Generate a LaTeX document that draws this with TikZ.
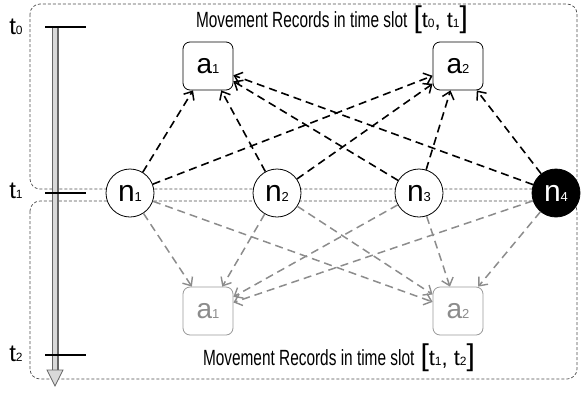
\documentclass[tikz,border=0pt]{standalone}
\usepackage{fontspec}
\usepackage{graphicx}
\setmainfont{Liberation Sans}
\usetikzlibrary{arrows.meta}
\newcommand{\sub}[2]{#1{\fontsize{13}{13}\selectfont #2}}
\newcommand{\tsub}[1]{t{\fontsize{12}{12}\selectfont #1}}
\begin{document}
\begin{tikzpicture}[x=1pt,y=-1pt,
  slotbox/.style={draw=black!70, dashed, dash pattern=on 3pt off 2pt, line width=0.7pt, rounded corners=10pt},
  circ/.style={circle, draw=black, line width=0.8pt, fill=white, minimum size=48pt, inner sep=0pt, font=\fontsize{30}{30}\selectfont},
  loc/.style={draw=black, line width=0.8pt, fill=white, rounded corners=7pt, minimum width=50pt, minimum height=48pt, inner sep=0pt, font=\fontsize{28}{28}\selectfont},
  gloc/.style={loc, draw=black!40, text=black!45},
  up/.style={draw=black, line width=1.6pt, dash pattern=on 8pt off 5pt, -{Straight Barb[length=7pt,width=12pt,line width=1.5pt]}},
  down/.style={draw=black!45, line width=1.5pt, dash pattern=on 8pt off 5pt, -{Straight Barb[length=7pt,width=12pt,line width=1.4pt]}},
  tick/.style={draw=black, line width=2pt},
  tlab/.style={font=\fontsize{24}{24}\selectfont},
  title/.style={font=\fontsize{22}{22}\selectfont, inner sep=0pt}
]
\useasboundingbox (0,0) rectangle (581,392);
% slot boxes
\draw[slotbox] (30,4) rectangle (577,189);
\draw[slotbox] (30,201) rectangle (577,379);
% time axis
\coordinate (ax0) at (55,27);
\coordinate (ax1) at (55,370);
\draw[line width=7pt, black!60] (ax0) -- (ax1);
\draw[line width=4pt, black!15] (ax0) -- (ax1);
\filldraw[fill=black!15, draw=black!60, line width=0.8pt] (47,370) -- (63,370) -- (55,386) -- cycle;
\draw[tick] (45,27) -- (86,27);
\draw[tick] (45,193) -- (86,193);
\draw[tick] (45,355) -- (86,355);
\node[tlab] (t0) at (16,27) {\tsub{0}};
\node[tlab] (t1) at (16,191) {\tsub{1}};
\node[tlab] (t2) at (16,354) {\tsub{2}};
% titles
\node[title] (ttop) at (332,20) {\scalebox{0.7}[1]{Movement Records in time slot}\ {\fontsize{30}{30}\selectfont [}\tsub{0}, \tsub{1}{\fontsize{30}{30}\selectfont ]}};
\node[title] (tbot) at (339,358) {\scalebox{0.7}[1]{Movement Records in time slot}\ {\fontsize{30}{30}\selectfont [}\tsub{1}, \tsub{2}{\fontsize{30}{30}\selectfont ]}};
% nodes
\node[loc] (a1) at (208,66) {\sub{a}{1}};
\node[loc] (a2) at (458,66) {\sub{a}{2}};
\node[gloc] (b1) at (208,311) {\sub{a}{1}};
\node[gloc] (b2) at (458,311) {\sub{a}{2}};
\node[circ] (n1) at (130,193) {\sub{n}{1}};
\node[circ] (n2) at (277,193) {\sub{n}{2}};
\node[circ] (n3) at (419,193) {\sub{n}{3}};
\node[circ, fill=black, text=white] (n4) at (556,193) {\sub{n}{4}};
% edges
\foreach \n in {n1,n2,n3,n4}{
  \draw[up] (\n) -- (a1);
  \draw[up] (\n) -- (a2);
  \draw[down] (\n) -- (b1);
  \draw[down] (\n) -- (b2);
}
\end{tikzpicture}
\end{document}
